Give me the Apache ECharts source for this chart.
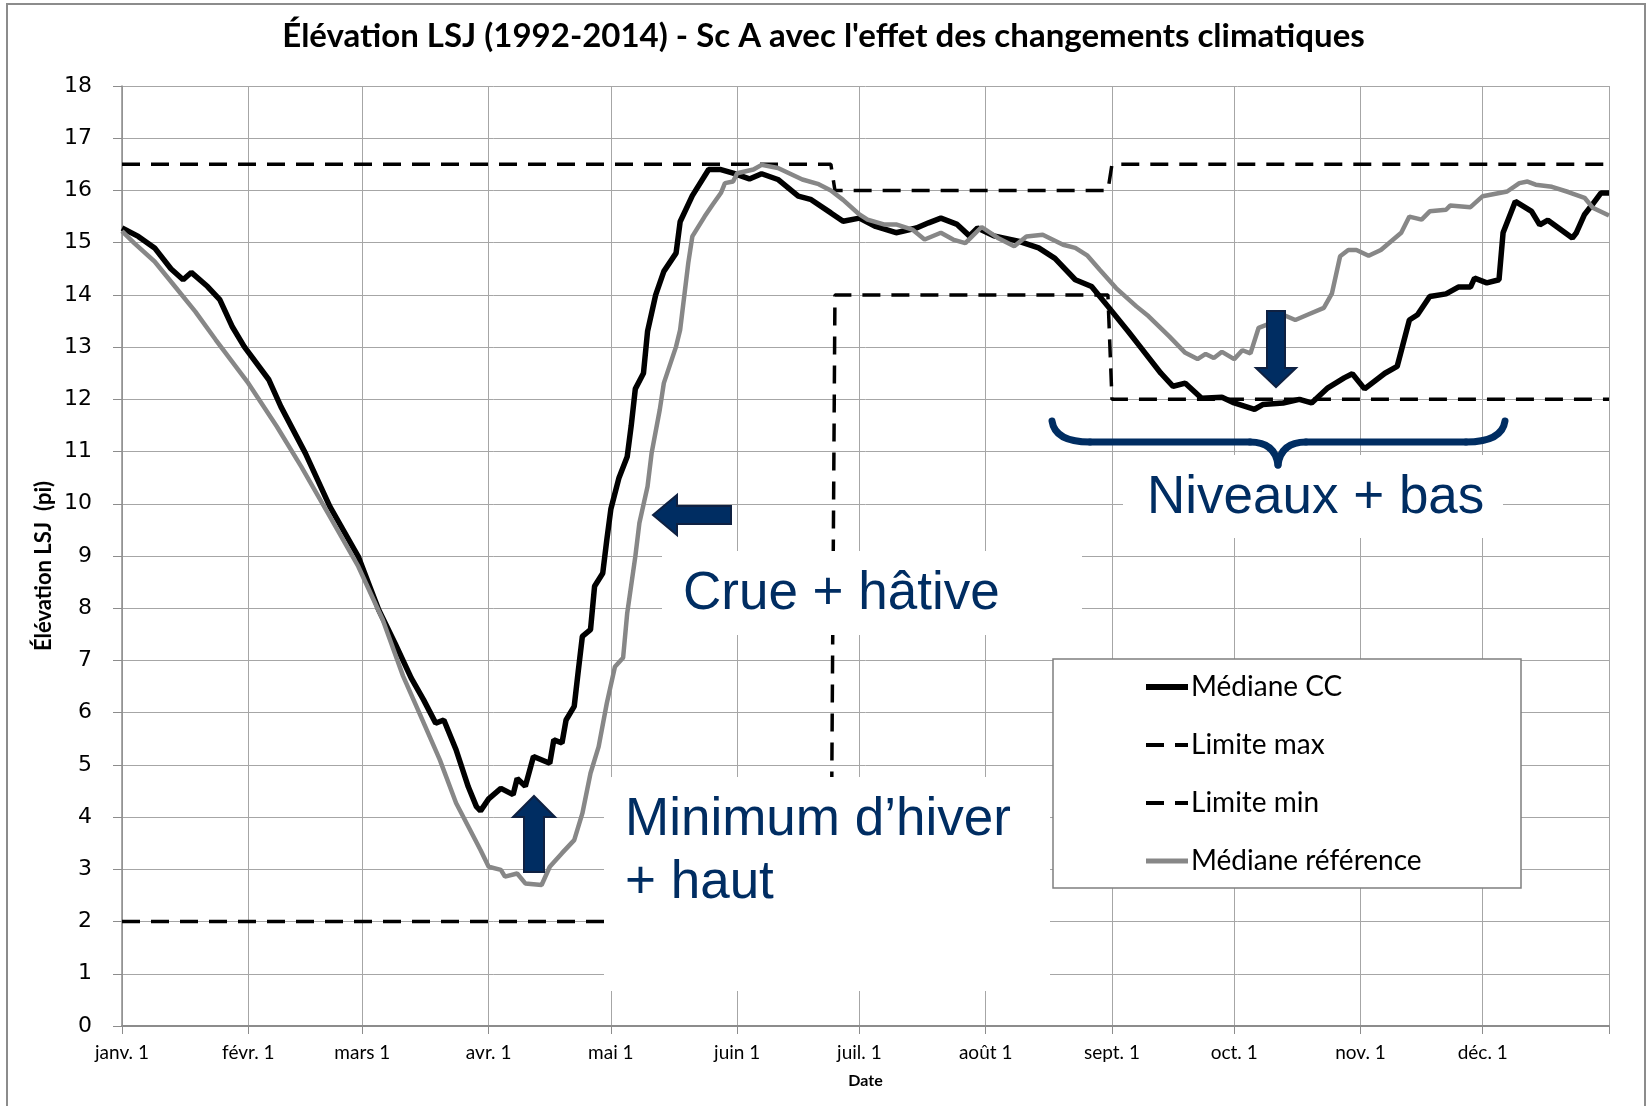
<!DOCTYPE html>
<html>
<head>
<meta charset="utf-8">
<script src="https://cdn.jsdelivr.net/npm/echarts@6/dist/echarts.min.js"></script>
<style>html,body{margin:0;padding:0;background:#fff}#chart{width:1647px;height:1106px}</style>
</head>
<body>
<div id="chart"></div>
<script>
// jour de l'année (0 = 1er janv.) et élévation (pi)
var monthStarts = [0, 31, 59, 90, 120, 151, 181, 212, 243, 273, 304, 334, 365];
var monthLabels = ['janv. 1', 'févr. 1', 'mars 1', 'avr. 1', 'mai 1', 'juin 1', 'juil. 1', 'août 1', 'sept. 1', 'oct. 1', 'nov. 1', 'déc. 1', ''];

var medianeCC = [
    [0, 15.28], [4, 15.12], [8, 14.90], [12, 14.50], [15, 14.29], [17, 14.43], [21, 14.16], [24, 13.91],
    [27, 13.40], [30, 13.01], [36, 12.38], [39, 11.86], [45, 10.97], [51, 9.95], [58, 8.99], [61, 8.38],
    [63, 7.97], [67, 7.33], [71, 6.66], [74, 6.25], [77, 5.80], [79, 5.86], [82, 5.29], [85, 4.58],
    [87, 4.20], [88, 4.12], [90, 4.35], [93, 4.55], [96, 4.43], [97, 4.74], [99, 4.59], [101, 5.16],
    [105, 5.03], [106, 5.48], [108, 5.42], [109, 5.86], [111, 6.12], [112, 6.80], [113, 7.46], [115, 7.59],
    [116, 8.42], [118, 8.67], [119, 9.31], [120, 9.90], [122, 10.50], [124, 10.90], [125, 11.50], [126, 12.20],
    [128, 12.50], [129, 13.30], [131, 14.00], [133, 14.45], [136, 14.80], [137, 15.40], [140, 15.90], [144, 16.40],
    [147, 16.40], [150, 16.33], [154, 16.22], [157, 16.32], [161, 16.21], [166, 15.89], [169, 15.83], [174, 15.57],
    [177, 15.41], [181, 15.47], [185, 15.31], [190, 15.19], [195, 15.28], [198, 15.38], [201, 15.47], [205, 15.35],
    [208, 15.13], [210, 15.28], [214, 15.13], [220, 15.03], [225, 14.90], [229, 14.70], [234, 14.29], [238, 14.16],
    [242, 13.78], [247, 13.30], [250, 13.00], [255, 12.50], [258, 12.25], [261, 12.31], [265, 12.02], [270, 12.04],
    [273, 11.93], [278, 11.81], [280, 11.90], [285, 11.93], [289, 12.00], [292, 11.93], [296, 12.22], [300, 12.41],
    [302, 12.49], [305, 12.20], [310, 12.50], [313, 12.63], [316, 13.52], [318, 13.62], [321, 13.97], [325, 14.02],
    [328, 14.15], [331, 14.15], [332, 14.32], [335, 14.23], [338, 14.29], [339, 15.19], [342, 15.79], [346, 15.60],
    [348, 15.34], [350, 15.43], [356, 15.09], [357, 15.19], [359, 15.54], [361, 15.74], [363, 15.95], [365, 15.95]
];

var medianeRef = [
    [0, 15.22], [3, 14.99], [8, 14.64], [13, 14.16], [18, 13.68], [23, 13.14], [31, 12.31], [38, 11.48],
    [44, 10.71], [51, 9.76], [58, 8.80], [64, 7.78], [69, 6.70], [73, 5.99], [78, 5.10], [82, 4.27],
    [85, 3.82], [88, 3.37], [90, 3.05], [93, 2.99], [94, 2.86], [97, 2.92], [99, 2.73], [103, 2.70],
    [105, 3.05], [108, 3.31], [111, 3.56], [113, 4.07], [115, 4.84], [117, 5.35], [119, 6.18], [121, 6.88],
    [123, 7.05], [124, 7.90], [126, 8.99], [127, 9.63], [129, 10.33], [130, 10.97], [132, 11.80], [133, 12.31],
    [136, 13.01], [137, 13.33], [139, 14.61], [140, 15.12], [143, 15.50], [145, 15.73], [147, 15.95], [148, 16.14],
    [150, 16.17], [151, 16.33], [155, 16.40], [157, 16.49], [161, 16.43], [167, 16.21], [171, 16.12], [174, 16.00],
    [177, 15.82], [181, 15.54], [183, 15.44], [187, 15.35], [190, 15.35], [194, 15.25], [197, 15.06], [201, 15.19],
    [204, 15.06], [207, 14.99], [211, 15.30], [215, 15.09], [219, 14.93], [222, 15.12], [226, 15.15], [231, 14.96],
    [234, 14.90], [237, 14.75], [240, 14.48], [244, 14.13], [249, 13.78], [252, 13.59], [257, 13.21], [261, 12.89],
    [264, 12.77], [266, 12.87], [268, 12.79], [270, 12.91], [273, 12.77], [275, 12.94], [277, 12.88], [279, 13.37],
    [282, 13.46], [285, 13.62], [288, 13.52], [291, 13.62], [295, 13.75], [297, 14.03], [299, 14.74], [301, 14.86],
    [303, 14.86], [306, 14.75], [309, 14.86], [314, 15.19], [316, 15.50], [319, 15.44], [321, 15.60], [325, 15.63],
    [326, 15.71], [331, 15.68], [334, 15.89], [340, 15.98], [343, 16.14], [345, 16.17], [347, 16.11], [351, 16.07],
    [355, 15.97], [359, 15.86], [361, 15.67], [365, 15.52]
];

var limiteMax = [[0, 16.5], [174, 16.5], [175, 16], [242, 16], [243, 16.5], [365, 16.5]];
var limiteMin = [[0, 2], [174, 2], [175, 14], [242, 14], [243, 12], [365, 12]];

var days = [];
for (var d = 0; d <= 365; d++) {
    days.push(String(d));
}
function isMonthStart(i) {
    return monthStarts.indexOf(i) >= 0;
}

var navy = '#002d62';
var gridColor = '#a6a6a6';
var dashed = [18, 11];
var braceStyle = { fill: 'none', stroke: navy, lineWidth: 7, lineCap: 'round' };

var option = {
    animation: false,
    backgroundColor: '#fff',
    title: {
        text: "Élévation LSJ (1992-2014) - Sc A avec l'effet des changements climatiques",
        left: 'center',
        top: 15,
        textStyle: { fontFamily: 'Lato', fontWeight: 'bold', fontSize: 33, color: '#000' }
    },
    grid: { left: 122, right: 38, top: 86, bottom: 80 },
    legend: {
        data: [
            { name: 'Médiane CC', lineStyle: { width: 6, color: '#000', type: 'solid' } },
            { name: 'Limite max', lineStyle: { width: 4, color: '#000', type: dashed } },
            { name: 'Limite min', lineStyle: { width: 4, color: '#000', type: dashed } },
            { name: 'Médiane référence', lineStyle: { width: 5, color: '#878787', type: 'solid' } }
        ],
        orient: 'vertical',
        left: 1143,
        top: 673,
        padding: 0,
        itemWidth: 42,
        itemHeight: 14,
        itemGap: 30,
        z: 60,
        itemStyle: { opacity: 0 },
        textStyle: { fontFamily: 'Lato', fontSize: 28, color: '#000', padding: [0, 0, 0, -2] }
    },
    xAxis: {
        type: 'category',
        data: days,
        boundaryGap: false,
        name: 'Date',
        nameLocation: 'middle',
        nameGap: 47,
        nameTextStyle: { fontFamily: 'Lato', fontWeight: 'bold', fontSize: 16, color: '#000' },
        axisLine: { lineStyle: { color: '#8c8c8c', width: 2 } },
        axisTick: { interval: isMonthStart, length: 8, lineStyle: { color: '#8c8c8c' } },
        axisLabel: {
            interval: isMonthStart,
            margin: 17,
            fontFamily: 'Lato',
            fontSize: 19,
            color: '#000',
            formatter: function (v, i) {
                var k = monthStarts.indexOf(i);
                return k >= 0 ? monthLabels[k] : '';
            }
        },
        splitLine: { show: true, interval: isMonthStart, lineStyle: { color: gridColor, width: 1 } }
    },
    yAxis: {
        type: 'value',
        min: 0,
        max: 18,
        interval: 1,
        axisLine: { show: true, lineStyle: { color: '#8c8c8c', width: 1.5 } },
        axisTick: { show: true, length: 9, lineStyle: { color: '#8c8c8c' } },
        axisLabel: { fontFamily: 'DejaVu Sans', fontSize: 22, color: '#000', margin: 30 },
        splitLine: { lineStyle: { color: gridColor, width: 1 } }
    },
    series: [{
        name: 'Médiane CC',
        type: 'line',
        data: medianeCC,
        symbol: 'none',
        itemStyle: { color: '#000' },
        lineStyle: { color: '#000', width: 5.5 }
    }, {
        name: 'Limite max',
        type: 'line',
        data: limiteMax,
        symbol: 'none',
        itemStyle: { color: '#000' },
        lineStyle: { color: '#000', width: 3.5, type: dashed }
    }, {
        name: 'Limite min',
        type: 'line',
        data: limiteMin,
        symbol: 'none',
        itemStyle: { color: '#000' },
        lineStyle: { color: '#000', width: 3.5, type: dashed }
    }, {
        name: 'Médiane référence',
        type: 'line',
        data: medianeRef,
        symbol: 'none',
        itemStyle: { color: '#878787' },
        lineStyle: { color: '#878787', width: 4.5 }
    }],
    graphic: [
        // cadre du graphique
        { type: 'rect', z: 1, shape: { x: 7, y: 4, width: 1638, height: 1112 }, style: { fill: 'none', stroke: '#8c8c8c', lineWidth: 2 } },
        // titre de l'axe Y
        { type: 'text', z: 5, x: 44, y: 566, rotation: Math.PI / 2,
          style: { text: 'Élévation LSJ  (pi)', font: 'bold 22px Lato', fill: '#000', align: 'center', verticalAlign: 'middle' } },
        // boîtes blanches des annotations
        { type: 'rect', z: 50, shape: { x: 662, y: 551, width: 420, height: 84 }, style: { fill: '#fff' } },
        { type: 'rect', z: 50, shape: { x: 1123, y: 455, width: 380, height: 83 }, style: { fill: '#fff' } },
        { type: 'rect', z: 50, shape: { x: 604, y: 777, width: 446, height: 214 }, style: { fill: '#fff' } },
        // boîte de légende
        { type: 'rect', z: 50, shape: { x: 1053, y: 659, width: 468, height: 229 }, style: { fill: '#fff', stroke: '#7f7f7f', lineWidth: 1.5 } },
        // textes
        { type: 'text', z: 55, x: 683, y: 594,
          style: { text: 'Crue + hâtive', font: '53px "Liberation Sans"', fill: navy, align: 'left', verticalAlign: 'middle' } },
        { type: 'text', z: 55, x: 1147, y: 498,
          style: { text: 'Niveaux + bas', font: '53px "Liberation Sans"', fill: navy, align: 'left', verticalAlign: 'middle' } },
        { type: 'text', z: 55, x: 625, y: 820,
          style: { text: "Minimum d’hiver", font: '53px "Liberation Sans"', fill: navy, align: 'left', verticalAlign: 'middle' } },
        { type: 'text', z: 55, x: 625, y: 883,
          style: { text: '+ haut', font: '53px "Liberation Sans"', fill: navy, align: 'left', verticalAlign: 'middle' } },
        // flèches
        { type: 'polygon', z: 56, shape: { points: [[653, 515], [677, 495], [677, 506], [731, 506], [731, 524], [677, 524], [677, 535]] },
          style: { fill: navy, stroke: '#0f2142', lineWidth: 2 } },
        { type: 'polygon', z: 56, shape: { points: [[534, 796], [555, 817], [544, 817], [544, 872], [524, 872], [524, 817], [513, 817]] },
          style: { fill: navy, stroke: '#0f2142', lineWidth: 2 } },
        { type: 'polygon', z: 56, shape: { points: [[1267, 311], [1285, 311], [1285, 368], [1296, 368], [1276, 387], [1256, 368], [1267, 368]] },
          style: { fill: navy, stroke: '#0f2142', lineWidth: 2 } },
        // accolade
        { type: 'bezierCurve', z: 56, shape: { x1: 1052, y1: 421, cpx1: 1055, cpy1: 442, x2: 1090, y2: 442 }, style: braceStyle },
        { type: 'line', z: 56, shape: { x1: 1090, y1: 442, x2: 1250, y2: 442 }, style: braceStyle },
        { type: 'bezierCurve', z: 56, shape: { x1: 1250, y1: 442, cpx1: 1275, cpy1: 442, x2: 1278, y2: 465 }, style: braceStyle },
        { type: 'bezierCurve', z: 56, shape: { x1: 1278, y1: 465, cpx1: 1281, cpy1: 442, x2: 1306, y2: 442 }, style: braceStyle },
        { type: 'line', z: 56, shape: { x1: 1306, y1: 442, x2: 1466, y2: 442 }, style: braceStyle },
        { type: 'bezierCurve', z: 56, shape: { x1: 1466, y1: 442, cpx1: 1502, cpy1: 442, x2: 1505, y2: 421 }, style: braceStyle }
    ]
};

var chart = echarts.init(document.getElementById('chart'));
chart.setOption(option);
</script>
</body>
</html>
